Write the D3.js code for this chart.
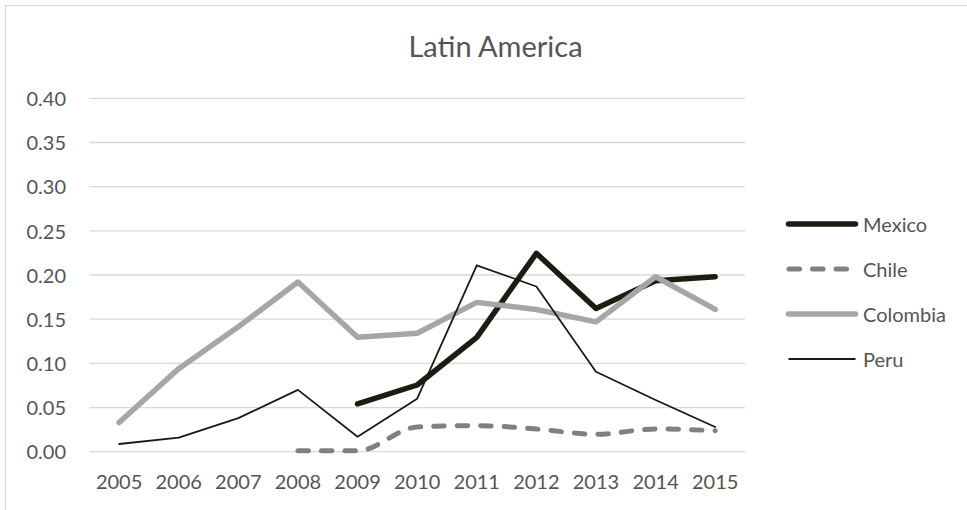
<!DOCTYPE html>
<meta charset="utf-8">

<!-- Load d3.js -->
<script src="https://d3js.org/d3.v7.min.js"></script>

<style>
body { margin: 0; background: white; }
text { font-family: Lato, "Open Sans", sans-serif; fill: #555555; }
</style>

<div id="my_dataviz"></div>

<script>

// data
var years = ["2005", "2006", "2007", "2008", "2009", "2010", "2011", "2012", "2013", "2014", "2015"];
var mexico   = [null, null, null, null, 0.054, 0.0755, 0.1295, 0.2245, 0.162, 0.1935, 0.198];
var chile    = [null, null, null, 0.001, 0.001, 0.028, 0.0295, 0.0257, 0.0197, 0.0257, 0.0238];
var colombia = [0.033, 0.094, 0.1415, 0.192, 0.1295, 0.134, 0.169, 0.161, 0.147, 0.198, 0.161];
var peru     = [0.0087, 0.016, 0.038, 0.070, 0.017, 0.060, 0.211, 0.187, 0.0905, 0.0585, 0.028];
var yTicks = [0, 0.05, 0.10, 0.15, 0.20, 0.25, 0.30, 0.35, 0.40];

var series = [
  {name: "Mexico",   values: mexico,   color: "#1e1b12", width: 5.5, dash: null,      smooth: false},
  {name: "Chile",    values: chile,    color: "#808080", width: 5,   dash: "10.5 13", smooth: true},
  {name: "Colombia", values: colombia, color: "#a6a6a6", width: 5.5, dash: null,      smooth: false},
  {name: "Peru",     values: peru,     color: "#1a1a14", width: 1.8, dash: null,      smooth: false}
];

var W = 967, H = 510;

var svg = d3.select("#my_dataviz")
  .append("svg")
    .attr("width", W)
    .attr("height", H);

// chart border (runs off the right / bottom of the picture)
svg.append("rect")
  .attr("x", 5.5).attr("y", 5.5)
  .attr("width", 1000).attr("height", 600)
  .attr("fill", "none")
  .attr("stroke", "#d9d9d9")
  .attr("stroke-width", 1.3);

// title
svg.append("text")
  .attr("x", 495.5)
  .attr("y", 56.5)
  .attr("text-anchor", "middle")
  .style("font-size", "29px")
  .text("Latin America");

// scales
var x = d3.scaleBand()
  .domain(years)
  .range([89.3, 745])
  .padding(0);

var y = d3.scaleLinear()
  .domain([0, 0.40])
  .range([451.7, 98.3]);

// gridlines
svg.append("g")
  .selectAll("line")
  .data(yTicks)
  .enter()
  .append("line")
    .attr("x1", 89.3)
    .attr("x2", 745)
    .attr("y1", function(d) { return y(d); })
    .attr("y2", function(d) { return y(d); })
    .attr("stroke", "#d9d9d9")
    .attr("stroke-width", 1.3);

// Y axis
var axisY = svg.append("g")
  .attr("transform", "translate(70,0)")
  .call(d3.axisLeft(y).tickValues(yTicks).tickFormat(d3.format(".2f")).tickSize(0).tickPadding(4));
axisY.select(".domain").remove();
axisY.selectAll("text")
  .style("font-size", "20px")
  .attr("dy", "0.36em");

// X axis
var axisX = svg.append("g")
  .attr("transform", "translate(0,451.7)")
  .call(d3.axisBottom(x).tickSize(0).tickPadding(0));
axisX.select(".domain").remove();
axisX.selectAll("text")
  .style("font-size", "20px")
  .attr("dy", "0")
  .attr("y", 37.3);

// lines
series.forEach(function(s) {
  var line = d3.line()
    .defined(function(d) { return d != null; })
    .x(function(d, i) { return x(years[i]) + x.bandwidth() / 2; })
    .y(function(d) { return y(d); })
    .curve(s.smooth ? d3.curveMonotoneX : d3.curveLinear);

  svg.append("path")
    .datum(s.values)
    .attr("fill", "none")
    .attr("stroke", s.color)
    .attr("stroke-width", s.width)
    .attr("stroke-linejoin", "round")
    .attr("stroke-linecap", "round")
    .attr("stroke-dasharray", s.dash)
    .attr("d", line);
});

// legend
var legend = svg.append("g")
  .selectAll("g")
  .data(series)
  .enter()
  .append("g")
    .attr("transform", function(d, i) { return "translate(0," + (224 + i * 45) + ")"; });

legend.append("line")
  .attr("x1", function(d) { return d.dash ? 789 : 788.5; })
  .attr("x2", function(d) { return d.dash ? 850 : 855.5; })
  .attr("stroke", function(d) { return d.color; })
  .attr("stroke-width", function(d) { return d.width; })
  .attr("stroke-linecap", function(d) { return d.width > 2 ? "round" : "butt"; })
  .attr("stroke-dasharray", function(d) { return d.dash; });

legend.append("text")
  .attr("x", 863)
  .attr("y", 7.5)
  .style("font-size", "20px")
  .text(function(d) { return d.name; });

</script>
